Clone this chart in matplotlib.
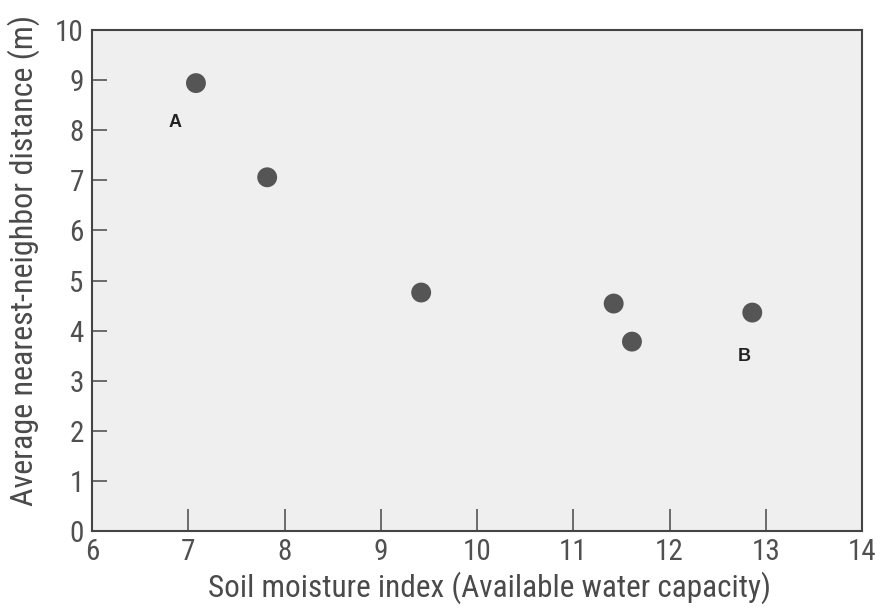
import matplotlib
matplotlib.use("Agg")
import matplotlib.pyplot as plt

soil_moisture = [7.08, 7.82, 9.42, 11.42, 11.61, 12.86]
nn_distance = [8.94, 7.06, 4.76, 4.54, 3.78, 4.36]
point_labels = ["A", "B"]
label_x = [6.86, 12.78]
label_y = [8.16, 3.48]
x_ticks = [6, 7, 8, 9, 10, 11, 12, 13, 14]
y_ticks = [0, 1, 2, 3, 4, 5, 6, 7, 8, 9, 10]

plt.rcParams['font.family'] = ['Roboto Condensed', 'DejaVu Sans']

fig = plt.figure(figsize=(8.83, 6.09), dpi=100)
ax = fig.add_axes([92/883, 1 - 531/609, (862-92)/883, (531-30)/609])
ax.set_facecolor('#efefef')
ax.scatter(soil_moisture, nn_distance, s=205, color='#555555', edgecolors='none', zorder=3)
for t, x, y in zip(point_labels, label_x, label_y):
    ax.text(x, y, t, fontsize=13, fontweight='bold', color='#222222', ha='center', va='center',
            family=['Liberation Sans', 'DejaVu Sans'])

ax.set_xlim(6, 14)
ax.set_ylim(0, 10)
ax.set_xticks(x_ticks)
ax.set_yticks(y_ticks)
ax.tick_params(direction='in', width=1.2, color='#555555', labelcolor='#505050',
               labelsize=21)
ax.tick_params(axis='y', pad=6, length=11)
ax.tick_params(axis='x', pad=5, length=16)
for s in ax.spines.values():
    s.set_color('#444444')
    s.set_linewidth(1.5)
ax.set_xlabel('Soil moisture index (Available water capacity)', fontsize=22.5, color='#4a4a4a')
ax.set_ylabel('Average nearest-neighbor distance (m)', fontsize=23, color='#4a4a4a')
ax.xaxis.set_label_coords(0.516, -0.08)
ax.yaxis.set_label_coords(-0.068, 0.54)

fig.savefig('out.png', dpi=100, facecolor='white')
